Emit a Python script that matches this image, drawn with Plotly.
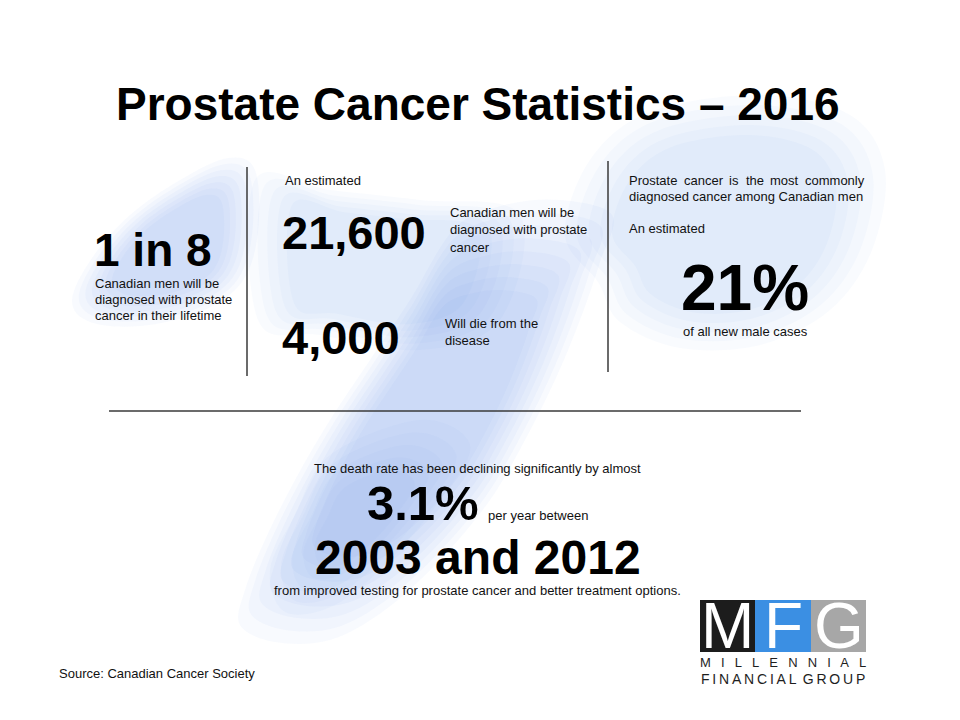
import plotly.graph_objects as go

# ---------------- data / text content ----------------
title_text = "Prostate Cancer Statistics \u2013 2016"

lifetime_risk = "1 in 8"
lifetime_lines = ["Canadian men will be", "diagnosed with prostate", "cancer in their lifetime"]

est_label = "An estimated"
new_cases = "21,600"
new_cases_lines = ["Canadian men will be", "diagnosed with prostate", "cancer"]
deaths = "4,000"
deaths_lines = ["Will die from the", "disease"]

common_line1_words = ["Prostate", "cancer", "is", "the", "most", "commonly"]
common_line2 = "diagnosed cancer among Canadian men"
share_pct = "21%"
share_label = "of all new male cases"

decline_intro = "The death rate has been declining significantly by almost"
decline_pct = "3.1%"
decline_mid = "per year between"
decline_years = "2003 and 2012"
decline_reason = "from improved testing for prostate cancer and better treatment options."

source_text = "Source: Canadian Cancer Society"
logo_letters = ["M", "F", "G"]
logo_colors = ["#1c1c1c", "#3b8fe3", "#a7a7a7"]
logo_line1 = "MILLENNIAL"
logo_line2 = "FINANCIAL GROUP"

# ---------------- figure ----------------
W, H = 960, 720
OFF = 8  # page body margin compensation
FONT = "Liberation Sans, Arial, sans-serif"
fig = go.Figure()

shapes = []
ann = []


def txt(x, y, s, size, bold=False, xanchor="left", color="#111111", yanchor="middle", **kw):
    d = dict(x=x, y=y, xref="x", yref="y", text=("<b>%s</b>" % s) if bold else s,
             showarrow=False, xanchor=xanchor, yanchor=yanchor,
             font=dict(family=FONT, size=size, color=color))
    d.update(kw)
    ann.append(d)


def smooth_path(pts):
    n = len(pts)
    d = "M %g,%g" % pts[0]
    for i in range(n):
        p0 = pts[(i - 1) % n]
        p1 = pts[i]
        p2 = pts[(i + 1) % n]
        p3 = pts[(i + 2) % n]
        c1 = (p1[0] + (p2[0] - p0[0]) / 6.0, p1[1] + (p2[1] - p0[1]) / 6.0)
        c2 = (p2[0] - (p3[0] - p1[0]) / 6.0, p2[1] - (p3[1] - p1[1]) / 6.0)
        d += " C %g,%g %g,%g %g,%g" % (c1[0], c1[1], c2[0], c2[1], p2[0], p2[1])
    return d + " Z"


def blob(pts, rgb, alpha, n_layers, min_scale):
    cx = sum(p[0] for p in pts) / len(pts)
    cy = sum(p[1] for p in pts) / len(pts)
    for k in range(n_layers):
        s = 1.0 - (1.0 - min_scale) * k / max(n_layers - 1, 1)
        sp = [(cx + (x - cx) * s, cy + (y - cy) * s) for x, y in pts]
        shapes.append(dict(type="path", path=smooth_path(sp), xref="x", yref="y",
                           fillcolor="rgba(%d,%d,%d,%.3f)" % (rgb + (alpha,)),
                           line=dict(width=0), layer="below"))


BLUE = (95, 150, 240)
# background watercolour ribbon (decorative)
blob([(565, 235), (590, 160), (650, 112), (760, 95), (850, 115), (885, 170), (872, 250),
      (830, 310), (760, 345), (680, 348), (620, 322), (598, 282)], BLUE, 0.035, 5, 0.7)
blob([(255, 180), (330, 190), (420, 200), (520, 215), (500, 320), (420, 350), (320, 335),
      (258, 320)], BLUE, 0.035, 5, 0.7)
blob([(72, 300), (92, 258), (130, 215), (180, 180), (228, 158), (255, 170), (258, 232),
      (242, 282), (200, 312), (140, 326), (90, 322)], BLUE, 0.045, 7, 0.6)
blob([(455, 228), (410, 300), (370, 360), (330, 420), (295, 480), (265, 540), (245, 590),
      (240, 625), (275, 642), (330, 640), (385, 610), (440, 560), (490, 500), (525, 440),
      (555, 380), (580, 320), (600, 262), (612, 215), (560, 200), (505, 205)], BLUE,
     0.045, 8, 0.6)
blob([(330, 455), (295, 515), (270, 570), (285, 612), (335, 605), (390, 560), (440, 500),
      (470, 445), (420, 420)], BLUE, 0.04, 5, 0.5)

# divider lines
shapes.append(dict(type="line", x0=247, x1=247, y0=167, y1=376, xref="x", yref="y",
                   line=dict(color="#3a3a3a", width=1.5)))
shapes.append(dict(type="line", x0=608, x1=608, y0=161, y1=372, xref="x", yref="y",
                   line=dict(color="#3a3a3a", width=1.5)))
shapes.append(dict(type="line", x0=109, x1=801, y0=411, y1=411, xref="x", yref="y",
                   line=dict(color="#3a3a3a", width=1.5)))

# title
txt(478, 104, title_text, 46, bold=True, xanchor="center", color="#000000")

# left column
txt(92, 250, lifetime_risk, 46, bold=True, color="#000000")
for i, s in enumerate(lifetime_lines):
    txt(93, 283 + 16 * i, s, 13)

# middle column
txt(283, 180, est_label, 13)
txt(280, 232, new_cases, 47, bold=True, color="#000000")
for i, s in enumerate(new_cases_lines):
    txt(448, 212 + 17.5 * i, s, 13)
txt(280, 337, deaths, 47, bold=True, color="#000000")
for i, s in enumerate(deaths_lines):
    txt(443, 323 + 17 * i, s, 13)

# right column (first line justified)
word_x = [627, 682, 727, 744, 768, 803]
for wx, w in zip(word_x, common_line1_words):
    txt(wx, 180, w, 13)
txt(627, 196, common_line2, 13)
txt(627, 228, est_label, 13)
txt(745, 288, share_pct, 64, bold=True, xanchor="center", color="#000000")
txt(745, 331, share_label, 13, xanchor="center")

# bottom section
txt(477, 468, decline_intro, 13, xanchor="center")
txt(481, 503, decline_pct, 49, bold=True, xanchor="right", color="#000000")
txt(486, 515, decline_mid, 13)
txt(478, 557, decline_years, 48, bold=True, xanchor="center", color="#000000")
txt(477, 590, decline_reason, 13, xanchor="center")

# source
txt(57, 673, source_text, 13)

# logo
box_x = [700, 755, 811, 866]
for i, (L, c) in enumerate(zip(logo_letters, logo_colors)):
    shapes.append(dict(type="rect", x0=box_x[i], x1=box_x[i + 1], y0=600, y1=652,
                       xref="x", yref="y", fillcolor=c, line=dict(width=0)))
    txt((box_x[i] + box_x[i + 1]) / 2, 626, L, 64, bold=False, xanchor="center",
        color="#ffffff", height=52, valign="middle")
sp1 = "\u2002 "
txt(783, 662, sp1.join(logo_line1), 13, xanchor="center", color="#1e1e1e")
sp2 = "\u2009"
txt(783, 679, sp2.join(logo_line2.split(" ")[0]) + " \u2009" + sp2.join(logo_line2.split(" ")[1]),
    14, xanchor="center", color="#1e1e1e")

fig.update_layout(
    width=W, height=H, margin=dict(l=0, r=0, t=0, b=0),
    paper_bgcolor="white", plot_bgcolor="white",
    xaxis=dict(range=[OFF, W + OFF], visible=False, fixedrange=True),
    yaxis=dict(range=[H + OFF, OFF], visible=False, fixedrange=True),
    shapes=shapes, annotations=ann, showlegend=False,
)
fig.write_html("out.html")
